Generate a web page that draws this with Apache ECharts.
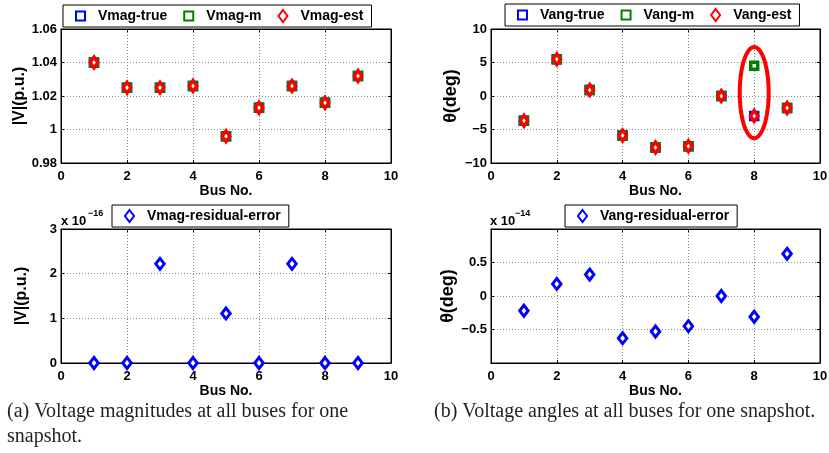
<!DOCTYPE html>
<html><head><meta charset="utf-8">
<script src="https://cdn.jsdelivr.net/npm/echarts@6/dist/echarts.min.js"></script>
<style>html,body{margin:0;padding:0;background:#fff}#c{width:829px;height:453px}</style>
</head><body><div id="c"></div>
<script>
const buses = [1, 2, 3, 4, 5, 6, 7, 8, 9];
const vmagTrue = [1.040, 1.025, 1.025, 1.026, 0.996, 1.013, 1.026, 1.016, 1.032];
const vmagM    = [1.040, 1.025, 1.025, 1.026, 0.996, 1.013, 1.026, 1.016, 1.032];
const vmagEst  = [1.040, 1.025, 1.025, 1.026, 0.996, 1.013, 1.026, 1.016, 1.032];
const vangTrue = [-3.7, 5.5, 0.9, -5.9, -7.7, -7.5, 0.0, -3.0, -1.8];
const vangM    = [-3.7, 5.5, 0.9, -5.9, -7.7, -7.5, 0.0, 4.5, -1.8];
const vangEst  = [-3.7, 5.5, 0.9, -5.9, -7.7, -7.5, 0.0, -3.0, -1.8];
const vmagResid = [0, 0, 2.22, 0, 1.11, 0, 2.22, 0, 0];      // x 1e-16
const vangResid = [-0.22, 0.18, 0.32, -0.63, -0.53, -0.45, 0.0, -0.31, 0.63]; // x 1e-14
const xTicks = [0, 2, 4, 6, 8, 10];

const F = 'Liberation Sans, Arial, sans-serif';
const BLUE = '#0000ff', GREEN = '#008000', RED = '#ff0000';
const pairs = a => buses.map((b, i) => [b, a[i]]);
const fmt = v => { const s = String(+v.toFixed(2)); return s.replace('-', '\u2212'); };

const grids = [
  {left: 61, top: 29, width: 330, height: 134},
  {left: 491, top: 29, width: 329, height: 134},
  {left: 61, top: 229, width: 330, height: 134},
  {left: 491, top: 229, width: 329, height: 134}
].map(g => Object.assign({show: true, borderColor: '#000', borderWidth: 1, backgroundColor: '#fff', outerBoundsMode: 'none'}, g));

const tickStyle = {show: true, inside: true, length: 3, lineStyle: {color: '#000'}};
const split = {show: true, lineStyle: {color: '#8a8a8a', type: [1, 2], width: 1}};
const lbl = {color: '#000', fontFamily: F, fontWeight: 'bold', fontSize: 13};

const xAxes = [], yAxes = [];
const yCfg = [
  {min: 0.98, max: 1.06, interval: 0.02, name: '|V|(p.u.)', size: 16},
  {min: -10, max: 10, interval: 5, name: '\u03b8(deg)', size: 18},
  {min: 0, max: 3, interval: 1, name: '|V|(p.u.)', size: 16},
  {min: -1, max: 1, interval: 0.5, name: '\u03b8(deg)', size: 18, hideEnds: true}
];
for (let i = 0; i < 4; i++) {
  xAxes.push({type: 'value', gridIndex: i, min: 0, max: 10, interval: 2, position: 'bottom',
    name: 'Bus No.', nameLocation: 'middle', nameGap: 21,
    nameTextStyle: {color: '#000', fontFamily: F, fontWeight: 'bold', fontSize: 14},
    axisLine: {show: true, onZero: false, lineStyle: {color: '#000'}},
    axisTick: tickStyle, axisLabel: Object.assign({margin: 7}, lbl), splitLine: split});
  xAxes.push({type: 'value', gridIndex: i, min: 0, max: 10, interval: 2, position: 'top',
    axisLine: {show: true, onZero: false, lineStyle: {color: '#000'}},
    axisTick: tickStyle, axisLabel: {show: false}, splitLine: {show: false}});
  const c = yCfg[i];
  yAxes.push({type: 'value', gridIndex: i, min: c.min, max: c.max, interval: c.interval, position: 'left',
    name: c.name, nameLocation: 'middle', nameGap: 31,
    nameTextStyle: {color: '#000', fontFamily: F, fontWeight: 'bold', fontSize: c.size},
    axisLine: {show: true, onZero: false, lineStyle: {color: '#000'}},
    axisTick: tickStyle,
    axisLabel: Object.assign({margin: 4, formatter: v => (c.hideEnds && Math.abs(v) === 1) ? '' : fmt(v)}, lbl),
    splitLine: split});
  yAxes.push({type: 'value', gridIndex: i, min: c.min, max: c.max, interval: c.interval, position: 'right',
    axisLine: {show: true, onZero: false, lineStyle: {color: '#000'}},
    axisTick: tickStyle, axisLabel: {show: false}, splitLine: {show: false}});
}

function sq(name, data, color, gi) {
  return {type: 'scatter', name, data: pairs(data), xAxisIndex: gi * 2, yAxisIndex: gi * 2,
    symbol: 'rect', symbolSize: 7, itemStyle: {color: '#fff', borderColor: color, borderWidth: 3.5, opacity: 1},
    emphasis: {disabled: true}, animation: false};
}
function dm(name, data, color, gi, size, bw) {
  return {type: 'scatter', name, data: pairs(data), xAxisIndex: gi * 2, yAxisIndex: gi * 2,
    symbol: 'diamond', symbolSize: size, itemStyle: {color: '#fff', borderColor: color, borderWidth: bw, opacity: 1},
    emphasis: {disabled: true}, animation: false};
}

const series = [
  sq('Vmag-true', vmagTrue, BLUE, 0), sq('Vmag-m', vmagM, GREEN, 0), dm('Vmag-est', vmagEst, RED, 0, [7.5, 11], 3.5),
  sq('Vang-true', vangTrue, BLUE, 1), sq('Vang-m', vangM, GREEN, 1), dm('Vang-est', vangEst, RED, 1, [7.5, 11], 3.5),
  dm('Vmag-residual-error', vmagResid, BLUE, 2, [8.5, 11], 3),
  dm('Vang-residual-error', vangResid, BLUE, 3, [8.5, 11], 3)
];

const SQ = 'path://M0,0h10v10h-10z';
const legBase = {orient: 'horizontal', backgroundColor: '#fff', borderColor: '#000', borderWidth: 1,
  padding: [4, 8, 4, 12], itemGap: 16, itemWidth: 9, itemHeight: 12, selectedMode: false,
  textStyle: {color: '#000', fontFamily: F, fontWeight: 'bold', fontSize: 14, padding: [0, 0, 0, 8]}};
const legend = [
  Object.assign({}, legBase, {left: 63, top: 5, data: [{name: 'Vmag-true', icon: SQ}, {name: 'Vmag-m', icon: SQ}, 'Vmag-est']}),
  Object.assign({}, legBase, {left: 505, top: 4, data: [{name: 'Vang-true', icon: SQ}, {name: 'Vang-m', icon: SQ}, 'Vang-est']}),
  Object.assign({}, legBase, {left: 112, top: 205, data: ['Vmag-residual-error']}),
  Object.assign({}, legBase, {left: 565, top: 205, data: ['Vang-residual-error']})
];

const capStyle = {fill: '#231f20', font: '20px "Liberation Serif", serif'};
const graphic = [
  {type: 'text', left: 61, top: 215, style: {text: 'x 10', fill: '#000', font: 'bold 13px ' + F}},
  {type: 'text', left: 88, top: 209, style: {text: '\u221216', fill: '#000', font: 'bold 9px ' + F}},
  {type: 'text', left: 490, top: 215, style: {text: 'x 10', fill: '#000', font: 'bold 13px ' + F}},
  {type: 'text', left: 515, top: 209, style: {text: '\u221214', fill: '#000', font: 'bold 9px ' + F}},
  {type: 'text', left: 7, top: 402, style: Object.assign({text: '(a) Voltage magnitudes at all buses for one'}, capStyle)},
  {type: 'text', left: 7, top: 427, style: Object.assign({text: 'snapshot.'}, capStyle)},
  {type: 'text', left: 434, top: 402, style: Object.assign({text: '(b) Voltage angles at all buses for one snapshot.'}, capStyle)}
];

const chart = echarts.init(document.getElementById('c'), null, {renderer: 'canvas'});
chart.setOption({backgroundColor: '#fff', animation: false, grid: grids, xAxis: xAxes, yAxis: yAxes,
  legend, series, graphic});

// highlight ellipse around bus 8 (annotation), placed in data space of the angle plot
const ell = {cx: 8, cy: 0.5, rx: 0.44, ry: 6.8};
const pts = [];
for (let k = 0; k < 72; k++) {
  const t = k / 72 * Math.PI * 2;
  pts.push(chart.convertToPixel({xAxisIndex: 2, yAxisIndex: 2}, [ell.cx + ell.rx * Math.cos(t), ell.cy + ell.ry * Math.sin(t)]));
}
chart.setOption({graphic: graphic.concat([{type: 'polygon', z: 100, shape: {points: pts},
  style: {fill: 'none', stroke: RED, lineWidth: 4}}])});
</script></body></html>
